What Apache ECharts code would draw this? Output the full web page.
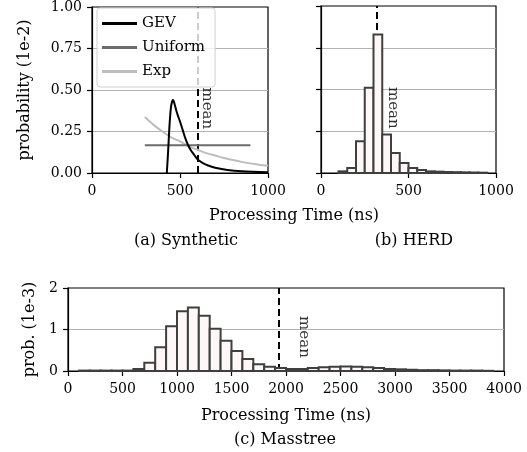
<!DOCTYPE html>
<html>
<head>
<meta charset="utf-8">
<script src="https://cdn.jsdelivr.net/npm/echarts@6/dist/echarts.min.js"></script>
<style>
  html, body { margin: 0; padding: 0; background: #fff; }
  #chart { width: 527px; height: 452px; }
</style>
</head>
<body>
<div id="chart"></div>
<script>
// (a) synthetic distributions, probability in 1e-2
const gevX = [425, 432, 440, 448, 455, 461, 468, 478, 490, 500, 515, 530, 545, 560, 580, 600, 630, 660, 700, 770, 850, 1000]
const gevY = [0.0, 0.12, 0.28, 0.39, 0.43, 0.44, 0.42, 0.38, 0.34, 0.31, 0.26, 0.21, 0.17, 0.14, 0.11, 0.082, 0.06, 0.045, 0.032, 0.018, 0.01, 0.004]
const uniformX = [300, 900]
const uniformY = [0.167, 0.167]
const expX = [300, 350, 400, 450, 500, 550, 600, 650, 700, 750, 800, 850, 900, 950, 1000]
const expY = [0.337, 0.29, 0.25, 0.215, 0.19, 0.16, 0.14, 0.12, 0.105, 0.09, 0.078, 0.067, 0.058, 0.05, 0.043]
const synthMean = 600

// (b) HERD histogram, bins of 50 ns, probability in 1e-2
const herdBinStart = [100, 150, 200, 250, 300, 350, 400, 450, 500, 550, 600, 650, 700, 750, 800, 850, 900]
const herdProb = [0.01, 0.03, 0.19, 0.51, 0.83, 0.23, 0.12, 0.06, 0.03, 0.018, 0.01, 0.008, 0.006, 0.005, 0.004, 0.003, 0.002]
const herdBinWidth = 50
const herdMean = 320

// (c) Masstree histogram, bins of 100 ns, probability in 1e-3
const mtBinStart = [100, 200, 300, 400, 500, 600, 700, 800, 900, 1000, 1100, 1200, 1300, 1400, 1500, 1600, 1700, 1800, 1900,
  2000, 2100, 2200, 2300, 2400, 2500, 2600, 2700, 2800, 2900, 3000, 3100, 3200, 3300, 3400, 3500, 3600, 3700, 3800]
const mtProb = [0.01, 0.01, 0.01, 0.01, 0.01, 0.05, 0.2, 0.57, 1.08, 1.44, 1.53, 1.33, 1.02, 0.73, 0.48, 0.29, 0.16, 0.1, 0.07,
  0.05, 0.05, 0.07, 0.09, 0.1, 0.11, 0.1, 0.09, 0.07, 0.05, 0.04, 0.03, 0.02, 0.02, 0.015, 0.01, 0.01, 0.01, 0.005]
const mtBinWidth = 100
const mtMean = 1935

const FONT = 'DejaVu Serif'
const FS = 16
const FS_TICK = 14

const pairs = (xs, ys) => xs.map((x, i) => [x, ys[i]])
const bins = (starts, w, vals) => starts.map((s, i) => [s, s + w, vals[i]])

const histItem = (params, api) => {
  const p0 = api.coord([api.value(0), api.value(2)])
  const p1 = api.coord([api.value(1), 0])
  return {
    type: 'rect',
    shape: { x: p0[0], y: p0[1], width: p1[0] - p0[0], height: p1[1] - p0[1] },
    style: { fill: '#fdf7f7', stroke: '#3f3f3f', lineWidth: 2 }
  }
}

// dashed vertical line at the mean; kept below the legend box
const meanLine = (v) => ({
  silent: true,
  symbol: 'none',
  z: 2,
  label: { show: false },
  lineStyle: { color: '#000', type: [7, 4], width: 2 },
  data: [{ xAxis: v }]
})

const meanText = (xi, yi, pos) => ({
  type: 'scatter', xAxisIndex: xi, yAxisIndex: yi, symbolSize: 0, silent: true,
  data: [pos],
  label: { show: true, position: 'inside', formatter: 'mean', rotate: -90, color: '#000', fontFamily: FONT, fontSize: 15 }
})

const xLabel = { color: '#000', fontFamily: FONT, fontSize: FS_TICK, margin: 11, formatter: (v) => String(v) }

const xAx = (gi, max, interval) => ({
  type: 'value', gridIndex: gi, min: 0, max: max, interval: interval,
  axisLine: { show: true, lineStyle: { color: '#000', width: 1.2 } },
  axisTick: { show: true, inside: false, length: 5, lineStyle: { color: '#000', width: 1.2 } },
  axisLabel: xLabel,
  splitLine: { show: false }
})

const yAx = (gi, max, interval, opts) => Object.assign({
  type: 'value', gridIndex: gi, min: 0, max: max, interval: interval,
  axisLine: { show: true, lineStyle: { color: '#000', width: 1.2 } },
  axisTick: { show: true, inside: false, length: 5, lineStyle: { color: '#000', width: 1.2 } },
  axisLabel: { color: '#000', fontFamily: FONT, fontSize: FS_TICK, margin: 10 },
  splitLine: { show: true, showMinLine: false, showMaxLine: false, lineStyle: { color: '#b3b3b3', width: 1 } },
  nameLocation: 'middle', nameRotate: 90,
  nameTextStyle: { color: '#000', fontFamily: FONT, fontSize: FS }
}, opts)

const gridBox = { show: true, borderColor: '#000', borderWidth: 1.2, backgroundColor: 'transparent' }
const txt = (s, x, y) => ({
  type: 'text', x: x, y: y,
  style: { text: s, fill: '#000', font: FS + 'px "' + FONT + '"', align: 'center', verticalAlign: 'middle' }
})

const chart = echarts.init(document.getElementById('chart'), null, { renderer: 'canvas' })
chart.setOption({
  backgroundColor: '#fff',
  animation: false,
  textStyle: { fontFamily: FONT },
  grid: [
    Object.assign({ left: 92, top: 6, width: 176, height: 167 }, gridBox),
    Object.assign({ left: 321, top: 6, width: 175, height: 167 }, gridBox),
    Object.assign({ left: 68, top: 288, width: 436, height: 83 }, gridBox)
  ],
  xAxis: [xAx(0, 1000, 500), xAx(1, 1000, 500), xAx(2, 4000, 500)],
  yAxis: [
    yAx(0, 1, 0.25, {
      name: 'probability (1e-2)', nameGap: 59,
      axisLabel: { color: '#000', fontFamily: FONT, fontSize: FS_TICK, margin: 10, formatter: (v) => v.toFixed(2) }
    }),
    yAx(1, 1, 0.25, { axisLabel: { show: false } }),
    yAx(2, 2, 1, { name: 'prob. (1e-3)', nameGap: 28 })
  ],
  legend: {
    data: ['GEV', 'Uniform', 'Exp'],
    orient: 'vertical', left: 97, top: 8, z: 6,
    icon: 'rect', itemWidth: 35, itemHeight: 3, itemGap: 9,
    padding: [8, 10, 8, 5],
    backgroundColor: 'rgba(255,255,255,0.8)',
    borderColor: '#d0d0d0', borderWidth: 1, borderRadius: 3,
    textStyle: { color: '#000', fontFamily: FONT, fontSize: 15, lineHeight: 15, height: 15 }
  },
  graphic: [
    txt('Processing Time (ns)', 294, 216),
    txt('(a) Synthetic', 186, 241),
    txt('(b) HERD', 414, 241),
    txt('Processing Time (ns)', 286, 416),
    txt('(c) Masstree', 285, 440)
  ],
  series: [
    {
      name: 'GEV', type: 'line', xAxisIndex: 0, yAxisIndex: 0, symbol: 'none', smooth: 0.3,
      lineStyle: { color: '#000', width: 2 }, itemStyle: { color: '#000' },
      data: pairs(gevX, gevY), z: 4,
      markLine: meanLine(synthMean)
    },
    {
      name: 'Uniform', type: 'line', xAxisIndex: 0, yAxisIndex: 0, symbol: 'none',
      lineStyle: { color: '#6b6b6b', width: 2 }, itemStyle: { color: '#6b6b6b' },
      data: pairs(uniformX, uniformY), z: 3
    },
    {
      name: 'Exp', type: 'line', xAxisIndex: 0, yAxisIndex: 0, symbol: 'none', smooth: 0.3,
      lineStyle: { color: '#bdbdbd', width: 2 }, itemStyle: { color: '#bdbdbd' },
      data: pairs(expX, expY), z: 2
    },
    meanText(0, 0, [653, 0.39]),
    {
      type: 'custom', xAxisIndex: 1, yAxisIndex: 1, renderItem: histItem,
      encode: { x: [0, 1], y: 2 },
      data: bins(herdBinStart, herdBinWidth, herdProb),
      markLine: meanLine(herdMean)
    },
    meanText(1, 1, [411, 0.39]),
    {
      type: 'custom', xAxisIndex: 2, yAxisIndex: 2, renderItem: histItem,
      encode: { x: [0, 1], y: 2 },
      data: bins(mtBinStart, mtBinWidth, mtProb),
      markLine: meanLine(mtMean)
    },
    meanText(2, 2, [2165, 0.82])
  ]
})
</script>
</body>
</html>
